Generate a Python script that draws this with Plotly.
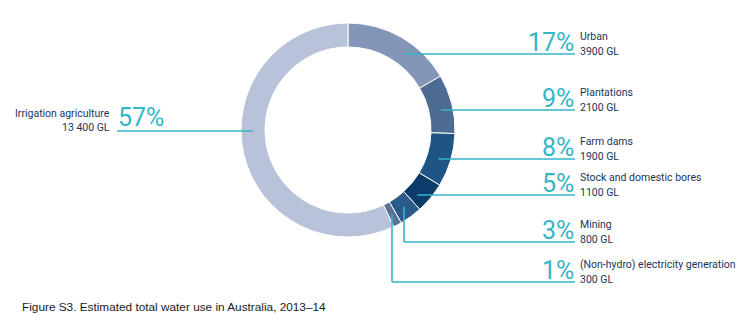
import math
import plotly.graph_objects as go

# Estimated total water use in Australia, 2013-14 (gigalitres)
categories = [
    "Urban",
    "Plantations",
    "Farm dams",
    "Stock and domestic bores",
    "Mining",
    "(Non-hydro) electricity generation",
    "Irrigation agriculture",
]
volumes_gl = [3900, 2100, 1900, 1100, 800, 300, 13400]
volume_labels = ["3900 GL", "2100 GL", "1900 GL", "1100 GL", "800 GL", "300 GL", "13 400 GL"]
slice_colors = ["#8496b7", "#4e6b94", "#1f5584", "#0c3c69", "#2c5a8a", "#5b7099", "#b8c3da"]

W, H = 754, 335
CX, CY, R_OUT, R_IN = 348, 130, 107, 83
R_MID = (R_OUT + R_IN) / 2
TEAL = "#33b6c6"
NAVY = "#22355a"

total = sum(volumes_gl)
shares = [v / total for v in volumes_gl]
pct_text = [f"{round(s * 100)}%" for s in shares]

# clockwise angles from 12 o'clock, middle of each slice
mid_angles = []
acc = 0.0
for s in shares:
    mid_angles.append((acc + s / 2) * 360)
    acc += s

fig = go.Figure()
fig.add_trace(go.Pie(
    labels=categories,
    values=volumes_gl,
    sort=False,
    direction="clockwise",
    rotation=0,
    hole=R_IN / R_OUT,
    marker=dict(colors=slice_colors, line=dict(color="white", width=1)),
    textinfo="none",
    hoverinfo="label+value+percent",
    showlegend=False,
    domain=dict(x=[(CX - R_OUT) / W, (CX + R_OUT) / W],
                y=[(H - CY - R_OUT) / H, (H - CY + R_OUT) / H]),
))

# label rows: (row y of leader line, leader style)
rows = {
    "Urban": (54, "flat"),
    "Plantations": (110, "flat"),
    "Farm dams": (159, "flat"),
    "Stock and domestic bores": (195, "flat"),
    "Mining": (242, "drop"),
    "(Non-hydro) electricity generation": (282, "drop"),
    "Irrigation agriculture": (131, "left"),
}
LABEL_X = 575
PCT_FONT = dict(family="Roboto", size=25, color=TEAL, weight=400)
TXT_FONT = dict(family="Roboto", size=10.5, color=NAVY)

shapes = []
dots_x, dots_y = [], []
annotations = []
for i, name in enumerate(categories):
    row_y, style = rows[name]
    if style == "flat":
        dy = row_y - CY
        dx = math.sqrt(max(R_MID ** 2 - dy ** 2, 0))
        px, py = CX + dx, row_y
        shapes.append(dict(type="line", x0=px, y0=py, x1=LABEL_X, y1=py))
    elif style == "drop":
        a = math.radians(mid_angles[i])
        px, py = CX + R_MID * math.sin(a), CY - R_MID * math.cos(a)
        px = round(px)
        shapes.append(dict(type="line", x0=px, y0=py, x1=px, y1=row_y))
        shapes.append(dict(type="line", x0=px, y0=row_y, x1=LABEL_X, y1=row_y))
    else:
        dy = row_y - CY
        dx = math.sqrt(max(R_MID ** 2 - dy ** 2, 0))
        px, py = CX - dx, row_y
        shapes.append(dict(type="line", x0=117, y0=py, x1=px, y1=py))
    dots_x.append(px)
    dots_y.append(py)

    if style in ("flat", "drop"):
        annotations.append(dict(x=LABEL_X + 1, y=row_y - 12, text=pct_text[i],
                                xanchor="right", yanchor="middle", font=PCT_FONT))
        annotations.append(dict(x=LABEL_X + 3, y=row_y - 17.5, text=name,
                                xanchor="left", yanchor="middle", font=TXT_FONT))
        annotations.append(dict(x=LABEL_X + 3, y=row_y - 3, text=volume_labels[i],
                                xanchor="left", yanchor="middle", font=TXT_FONT))
    else:
        annotations.append(dict(x=116, y=row_y - 13.5, text=pct_text[i],
                                xanchor="left", yanchor="middle", font=PCT_FONT))
        annotations.append(dict(x=112, y=row_y - 18, text=name,
                                xanchor="right", yanchor="middle", font=TXT_FONT))
        annotations.append(dict(x=112, y=row_y - 4, text=volume_labels[i],
                                xanchor="right", yanchor="middle", font=TXT_FONT))

for s in shapes:
    s.update(xref="x", yref="y", line=dict(color=TEAL, width=1.6), layer="above")

fig.add_trace(go.Scatter(
    x=dots_x, y=dots_y, mode="markers",
    marker=dict(size=6, color=TEAL),
    hoverinfo="skip", showlegend=False,
))

annotations.append(dict(x=20, y=307, text="Figure S3. Estimated total water use in Australia, 2013–14",
                        xanchor="left", yanchor="middle",
                        font=dict(family="Liberation Sans, Arial", size=11.8, color="#1a1a1a")))
for a in annotations:
    a.update(xref="x", yref="y", showarrow=False)

fig.update_layout(
    width=W, height=H,
    margin=dict(l=0, r=0, t=0, b=0),
    paper_bgcolor="white", plot_bgcolor="rgba(0,0,0,0)",
    xaxis=dict(range=[0, W], visible=False, fixedrange=True),
    yaxis=dict(range=[H, 0], visible=False, fixedrange=True),
    shapes=shapes,
    annotations=annotations,
)

fig.write_html("out.html")
